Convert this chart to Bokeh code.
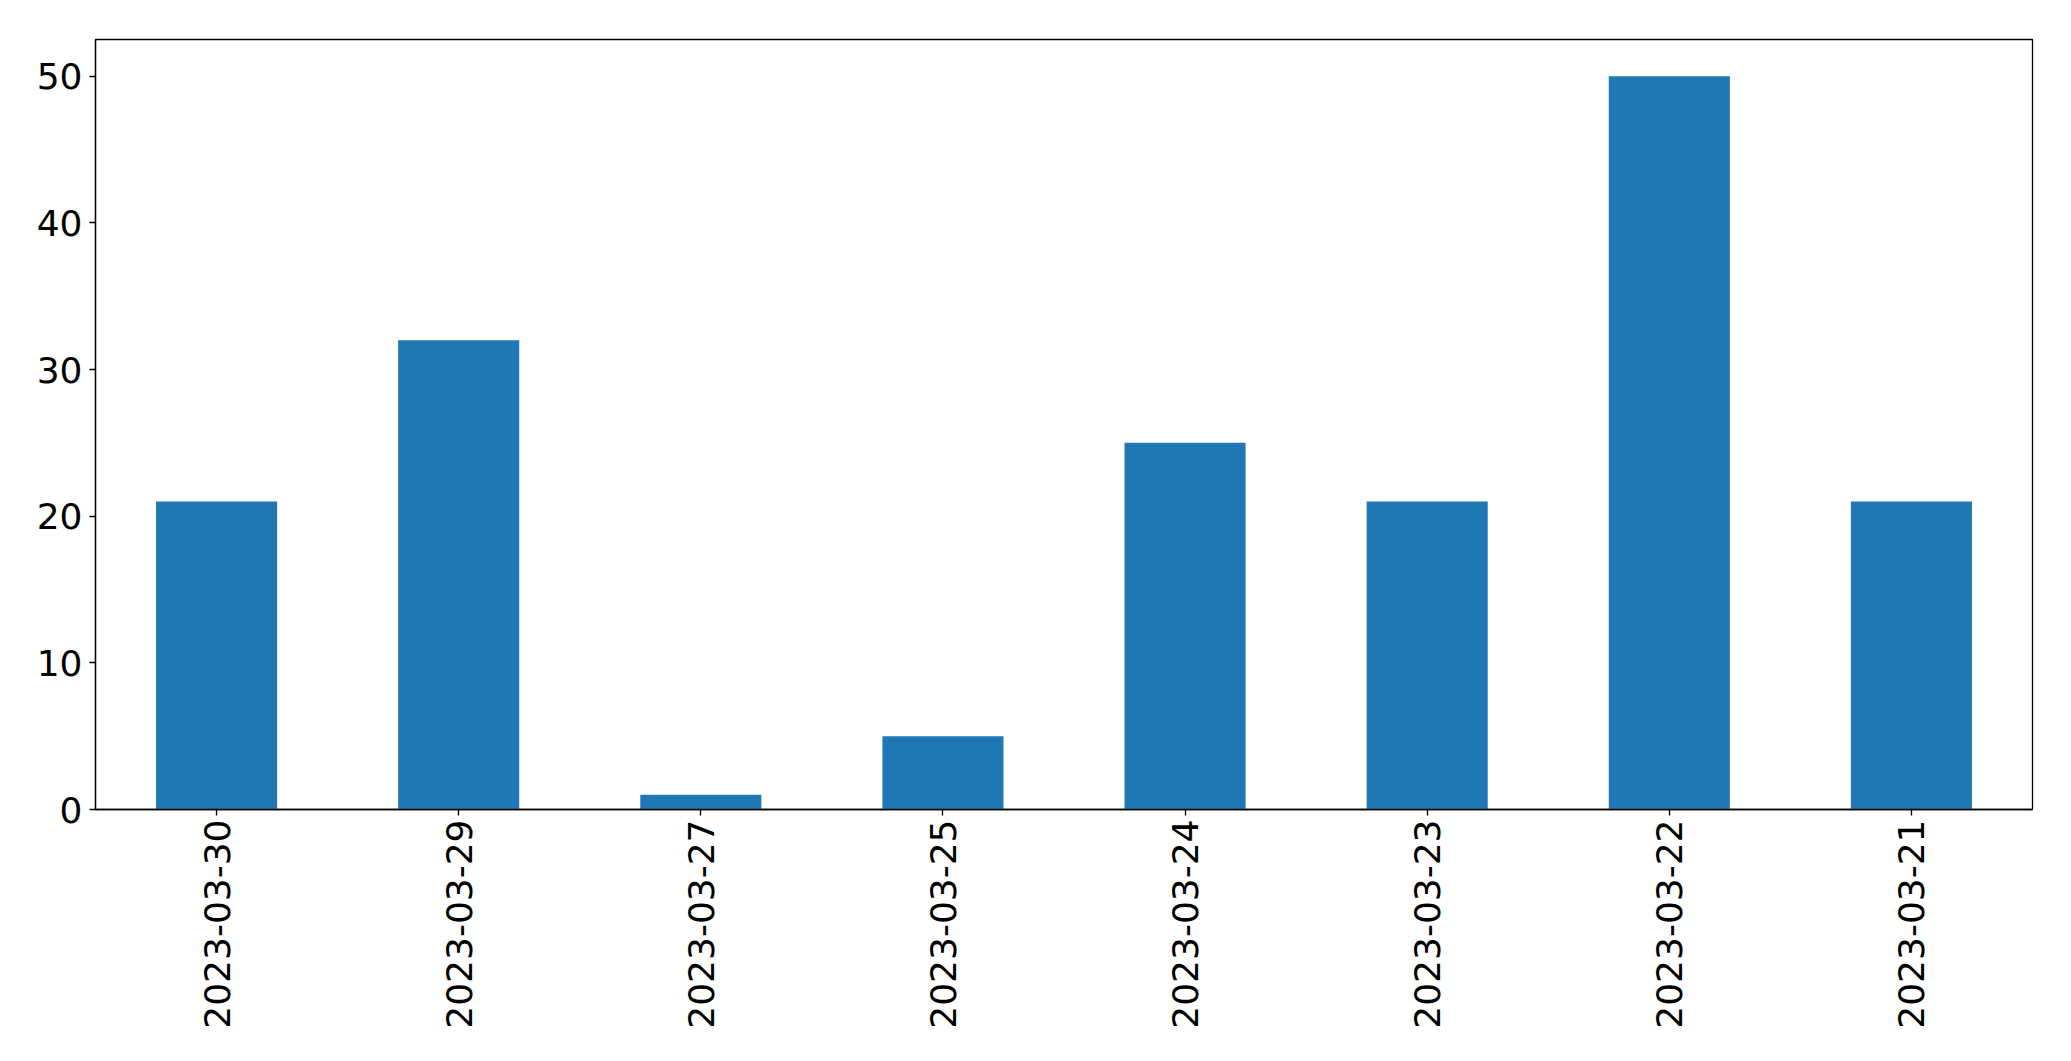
import math
from bokeh.plotting import figure
from bokeh.models import FactorRange, Range1d, FixedTicker, ColumnDataSource
from bokeh.embed import file_html
from bokeh.resources import INLINE

dates = ["2023-03-30", "2023-03-29", "2023-03-27", "2023-03-25",
         "2023-03-24", "2023-03-23", "2023-03-22", "2023-03-21"]
counts = [21, 32, 1, 5, 25, 21, 50, 21]
y_ticks = [0, 10, 20, 30, 40, 50]

src = ColumnDataSource(data=dict(date=dates, count=counts))

p = figure(x_range=FactorRange(*dates), y_range=Range1d(0, 52.5),
           width=2063, height=1053, output_backend="svg", toolbar_location=None,
           min_border_left=95, min_border_top=39, min_border_right=31, min_border_bottom=244)

p.vbar(x="date", top="count", width=0.5, source=src, fill_color="#1f77b4", line_color=None)

p.xgrid.visible = False
p.ygrid.visible = False
p.outline_line_color = "black"
p.outline_line_width = 1.3
p.outline_line_alpha = 1.0

for ax in (p.xaxis, p.yaxis):
    ax.axis_line_color = "black"
    ax.axis_line_width = 1.3
    ax.major_tick_line_color = "black"
    ax.major_tick_line_width = 1.3
    ax.major_tick_out = 6
    ax.major_tick_in = 0
    ax.minor_tick_line_color = None
    ax.major_label_text_font = "DejaVu Sans"
    ax.major_label_text_font_size = "36px"
    ax.major_label_text_color = "black"

p.yaxis.ticker = FixedTicker(ticks=y_ticks)
p.yaxis.major_label_standoff = 7
p.xaxis.major_label_orientation = math.pi / 2
p.xaxis.major_label_standoff = 4

open("out.html", "w").write(file_html(p, INLINE))
